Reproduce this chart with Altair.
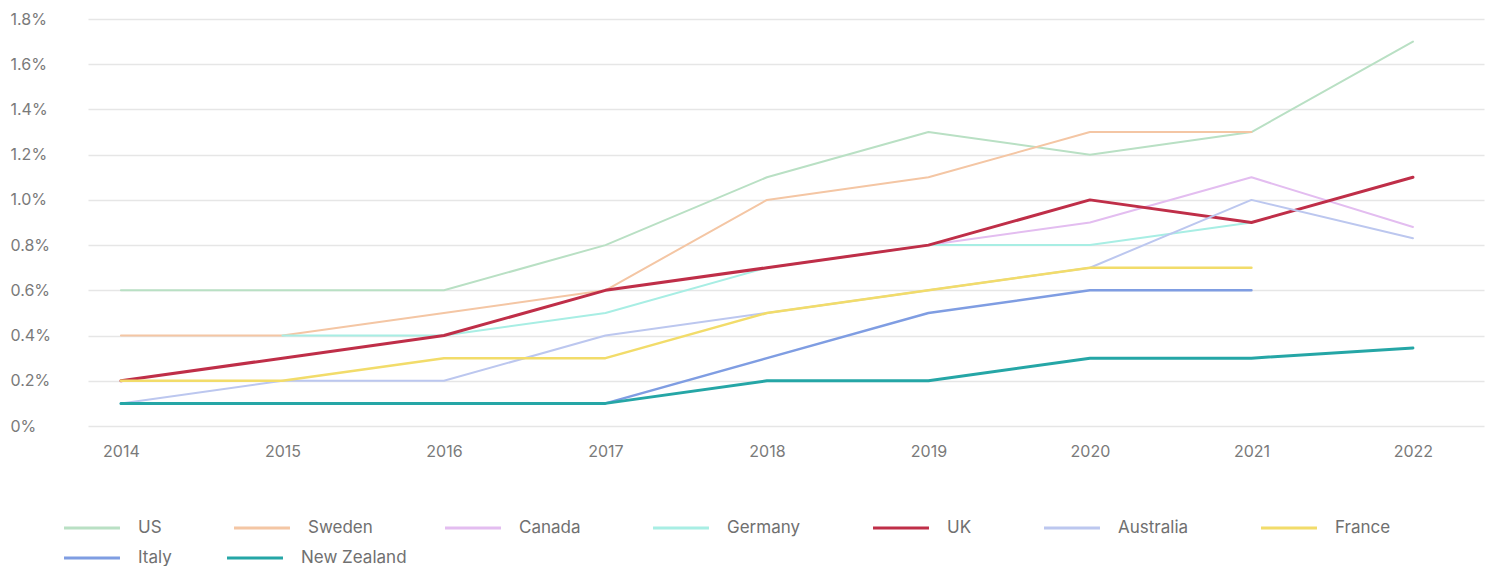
import altair as alt
import pandas as pd

years = [2014, 2015, 2016, 2017, 2018, 2019, 2020, 2021, 2022]
countries = ["US", "Sweden", "Canada", "Germany", "UK", "Australia", "France", "Italy", "New Zealand"]
colors = ["#b9e0c4", "#f4c6a4", "#e3bdf0", "#a8eee4", "#bf2e48", "#bcc7ef", "#f2dc6a", "#7f9de2", "#25a6a6"]

us = [0.6, 0.6, 0.6, 0.8, 1.1, 1.3, 1.2, 1.3, 1.7]
sweden = [0.4, 0.4, 0.5, 0.6, 1.0, 1.1, 1.3, 1.3, None]
canada = [None, None, None, None, None, 0.8, 0.9, 1.1, 0.88]
germany = [None, 0.4, 0.4, 0.5, 0.7, 0.8, 0.8, 0.9, None]
uk = [0.2, 0.3, 0.4, 0.6, 0.7, 0.8, 1.0, 0.9, 1.1]
australia = [0.1, 0.2, 0.2, 0.4, 0.5, 0.6, 0.7, 1.0, 0.83]
france = [0.2, 0.2, 0.3, 0.3, 0.5, 0.6, 0.7, 0.7, None]
italy = [0.1, 0.1, 0.1, 0.1, 0.3, 0.5, 0.6, 0.6, None]
new_zealand = [0.1, 0.1, 0.1, 0.1, 0.2, 0.2, 0.3, 0.3, 0.345]

series = [us, sweden, canada, germany, uk, australia, france, italy, new_zealand]

rows = []
for ci, (name, vals) in enumerate(zip(countries, series)):
    for y, v in zip(years, vals):
        if v is not None:
            rows.append({"country": name, "year": y, "value": v, "ord": ci})
df = pd.DataFrame(rows)

row1 = countries[:7]
row2 = countries[7:]

FONT = "Inter"
GREY = "#7a7a7a"

stroke_w = alt.StrokeWidthValue(
    value=2,
    condition=[
        {"test": "datum.country === 'UK' || datum.country === 'New Zealand'", "value": 3},
        {"test": "datum.country === 'Italy' || datum.country === 'France'", "value": 2.5},
    ],
)

x_enc = alt.X("year:Q", scale=alt.Scale(domain=[2013.796, 2022.44], nice=False, zero=False),
              axis=alt.Axis(values=years, format="d", title=None, grid=False, domain=False, ticks=False,
                            labelPadding=17, labelFontSize=16, labelColor=GREY, labelFont=FONT))
y_enc = alt.Y("value:Q", scale=alt.Scale(domain=[0, 1.8], nice=False),
              axis=alt.Axis(values=[0, 0.2, 0.4, 0.6, 0.8, 1.0, 1.2, 1.4, 1.6, 1.8], title=None,
                            labelExpr="datum.value == 0 ? '0%' : format(datum.value, '.1f') + '%'",
                            domain=False, ticks=False, labelAlign="left", labelPadding=78,
                            labelFontSize=16, labelColor=GREY, labelFont=FONT,
                            gridColor="#e6e6e6", gridWidth=1.5))


def legend(y, pad):
    return alt.Legend(title=None, orient="none", legendX=-7, legendY=y,
                      direction="horizontal", columns=7, symbolType="M-3,0H3",
                      symbolSize=348, symbolStrokeWidth=3, labelFontSize=17,
                      labelColor="#707070", labelFont=FONT, symbolOffset=0,
                      labelOffset=35, columnPadding=pad)


base = alt.Chart(df).mark_line(strokeCap="round", strokeJoin="round")

layer1 = base.transform_filter(
    alt.FieldOneOfPredicate(field="country", oneOf=row1)
).encode(
    x=x_enc, y=y_enc,
    color=alt.Color("country:N", scale=alt.Scale(domain=row1, range=colors[:7]),
                    legend=legend(498, 66)),
    strokeWidth=stroke_w,
    order=alt.Order("year:Q"),
    detail="country:N",
)

layer2 = base.transform_filter(
    alt.FieldOneOfPredicate(field="country", oneOf=row2)
).encode(
    x=x_enc, y=y_enc,
    color=alt.Color("country:N", scale=alt.Scale(domain=row2, range=colors[7:]),
                    legend=legend(528, 49)),
    strokeWidth=stroke_w,
    order=alt.Order("year:Q"),
    detail="country:N",
)

chart = alt.layer(layer1, layer2).resolve_scale(color="independent").properties(
    width=1396,
    height=407,
    autosize=alt.AutoSizeParams(type="none"),
    padding={"left": 80, "top": 11, "right": 2, "bottom": 140},
    background="white",
).configure_view(strokeWidth=0)

chart.save("out.html", embed_options={"renderer": "svg", "actions": False})
